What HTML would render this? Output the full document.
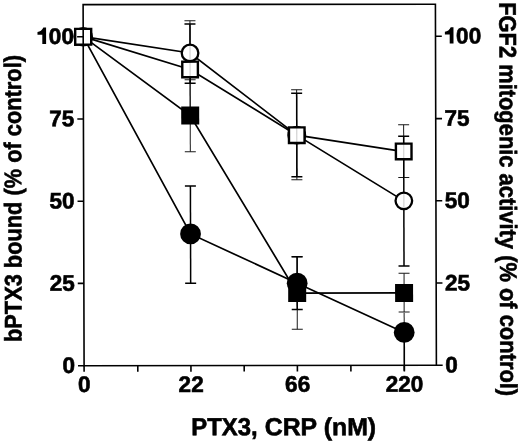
<!DOCTYPE html><html><head><meta charset="utf-8"><style>html,body{margin:0;padding:0;background:#fff}svg{display:block;position:absolute;left:0;top:0;will-change:transform}text{font-family:"Liberation Sans",sans-serif;font-weight:bold;fill:#000;stroke:#000;stroke-width:0.6px}</style></head><body>
<svg width="520" height="443" viewBox="0 0 520 443">
<rect width="520" height="443" fill="#fff"/>
<g transform="matrix(1 -0.001 0.0027 1 -0.5 0.26)">
<g id="errs">
<path d="M190.4 20.7V118.1" stroke="#1a1a1a" stroke-width="1" fill="none"/><path d="M184.9 20.7H195.9M184.9 118.1H195.9" stroke="#1a1a1a" stroke-width="1" fill="none"/>
<path d="M190.4 79.6V151.7" stroke="#1a1a1a" stroke-width="1" fill="none"/><path d="M184.9 79.6H195.9M184.9 151.7H195.9" stroke="#1a1a1a" stroke-width="1" fill="none"/>
<path d="M190.4 24.0V83.2" stroke="#000" stroke-width="1.5" fill="none"/><path d="M184.9 24.0H195.9M184.9 83.2H195.9" stroke="#000" stroke-width="1.5" fill="none"/>
<path d="M190.4 185.9V283.2" stroke="#000" stroke-width="1.5" fill="none"/><path d="M184.9 185.9H195.9M184.9 283.2H195.9" stroke="#000" stroke-width="1.5" fill="none"/>
<path d="M296.9 89.8V179.9" stroke="#1a1a1a" stroke-width="1" fill="none"/><path d="M291.4 89.8H302.4M291.4 179.9H302.4" stroke="#1a1a1a" stroke-width="1" fill="none"/>
<path d="M296.9 93.4V176.7" stroke="#000" stroke-width="1.5" fill="none"/><path d="M291.4 93.4H302.4M291.4 176.7H302.4" stroke="#000" stroke-width="1.5" fill="none"/>
<path d="M296.9 256.9V329.3" stroke="#1a1a1a" stroke-width="1" fill="none"/><path d="M291.4 256.9H302.4M291.4 329.3H302.4" stroke="#1a1a1a" stroke-width="1" fill="none"/>
<path d="M296.9 256.9V309.6" stroke="#000" stroke-width="1.5" fill="none"/><path d="M291.4 256.9H302.4M291.4 309.6H302.4" stroke="#000" stroke-width="1.5" fill="none"/>
<path d="M403.8 125.0V177.6" stroke="#1a1a1a" stroke-width="1" fill="none"/><path d="M398.3 125.0H409.3M398.3 177.6H409.3" stroke="#1a1a1a" stroke-width="1" fill="none"/>
<path d="M403.8 136.5V266.1" stroke="#000" stroke-width="1.5" fill="none"/><path d="M398.3 136.5H409.3M398.3 266.1H409.3" stroke="#000" stroke-width="1.5" fill="none"/>
<path d="M403.8 273.4V312.2" stroke="#1a1a1a" stroke-width="1" fill="none"/><path d="M398.3 273.4H409.3M398.3 312.2H409.3" stroke="#1a1a1a" stroke-width="1" fill="none"/>
<path d="M403.8 312.9V332.6" stroke="#1a1a1a" stroke-width="1"/>
<path d="M403.8 332.6V371" stroke="#000" stroke-width="1.6"/>
</g>
<g id="lines" fill="none" stroke="#000" stroke-width="1.7">
<polyline points="83.6,36.5 190.4,52.9 296.9,135.2 403.8,201.0"/>
<polyline points="83.6,36.5 190.4,69.4 296.9,135.2 403.8,151.7"/>
<polyline points="83.6,36.5 190.4,115.5 296.9,293.1 403.8,293.1"/>
<polyline points="83.6,36.5 190.4,233.9 296.9,283.2 403.8,332.6"/>
</g>
<g id="markers">
<circle cx="190.4" cy="233.9" r="10.4" fill="#000"/>
<rect x="181.4" y="106.5" width="18" height="18" fill="#000"/>
<circle cx="190.4" cy="52.9" r="8.3" fill="#fff" stroke="#000" stroke-width="2.3"/>
<rect x="182.6" y="61.6" width="15.6" height="15.6" fill="#fff" stroke="#000" stroke-width="2.4"/>
<circle cx="296.9" cy="283.2" r="10.4" fill="#000"/>
<rect x="287.9" y="284.1" width="18" height="18" fill="#000"/>
<circle cx="296.9" cy="135.2" r="8.3" fill="#fff" stroke="#000" stroke-width="2.3"/>
<rect x="289.1" y="127.4" width="15.6" height="15.6" fill="#fff" stroke="#000" stroke-width="2.4"/>
<circle cx="403.8" cy="332.6" r="10.4" fill="#000"/>
<rect x="394.8" y="284.1" width="18" height="18" fill="#000"/>
<circle cx="403.8" cy="201.0" r="8.3" fill="#fff" stroke="#000" stroke-width="2.3"/>
<rect x="396.0" y="143.8" width="15.6" height="15.6" fill="#fff" stroke="#000" stroke-width="2.4"/>
<path d="M190.4 44.9V76.4" stroke="#000" stroke-opacity="0.18" stroke-width="1.2"/>
<path d="M296.9 127.2V142.2" stroke="#000" stroke-opacity="0.18" stroke-width="1.2"/>
<path d="M403.8 143.7V158.7" stroke="#000" stroke-opacity="0.18" stroke-width="1.2"/>
<path d="M403.8 193.0V208.0" stroke="#000" stroke-opacity="0.18" stroke-width="1.2"/>
<circle cx="83.6" cy="36.5" r="9.8" fill="#000"/>
<rect x="75.6" y="28.7" width="16" height="15.8" fill="#fff" stroke="#000" stroke-width="2.4"/>
</g>
<g id="axes" fill="none" stroke="#000" stroke-width="1.6">
<rect x="83.6" y="4.4" width="352.3" height="361.1"/>
<path d="M77.5 365.5H83.6M435.9 365.5H442.2M77.5 283.2H83.6M435.9 283.2H442.2M77.5 201.0H83.6M435.9 201.0H442.2M77.5 118.8H83.6M435.9 118.8H442.2M77.5 36.5H83.6M435.9 36.5H442.2M83.60 365.5V371.6M137.30 365.5V371.6M190.45 365.5V371.6M243.70 365.5V371.6M296.90 365.5V371.6M350.40 365.5V371.6M403.85 365.5V371.6"/>
</g>
<g id="labels" font-size="22.6">
<text x="74.6" y="372.8" text-anchor="end">0</text>
<text x="444.7" y="372.8">0</text>
<text x="74.6" y="290.6" text-anchor="end">25</text>
<text x="444.7" y="290.6">25</text>
<text x="74.6" y="208.3" text-anchor="end">50</text>
<text x="444.7" y="208.3">50</text>
<text x="74.6" y="126.0" text-anchor="end">75</text>
<text x="444.7" y="126.0">75</text>
<path transform="translate(37.9 43.8)" d="M8.6 0H4.8V-9.2H0V-11.9Q3.9 -12.3 5.9 -16.4H8.6Z" fill="#000"/>
<text x="74.4" y="43.8" text-anchor="end">00</text>
<path transform="translate(445.3 43.8)" d="M8.6 0H4.8V-9.2H0V-11.9Q3.9 -12.3 5.9 -16.4H8.6Z" fill="#000"/>
<text x="456.5" y="43.8">00</text>
<text x="83.8" y="391.9" text-anchor="middle">0</text>
<text x="190.6" y="391.9" text-anchor="middle">22</text>
<text x="297.1" y="391.9" text-anchor="middle">66</text>
<text x="404.0" y="391.9" text-anchor="middle">220</text>
</g>
<text x="190.6" y="435.3" font-size="24.6" textLength="66.5" lengthAdjust="spacingAndGlyphs">PTX3,</text>
<text x="264" y="435.3" font-size="24.6" textLength="111.5" lengthAdjust="spacingAndGlyphs">CRP (nM)</text>
<text transform="translate(21.2 341.8) rotate(-90)" font-size="24" textLength="287" lengthAdjust="spacingAndGlyphs">bPTX3 bound (% of control)</text>
<text transform="translate(499.8 2.4) rotate(90)" font-size="24" textLength="394" lengthAdjust="spacingAndGlyphs">FGF2 mitogenic activity (% of control)</text>
</g></svg></body></html>
